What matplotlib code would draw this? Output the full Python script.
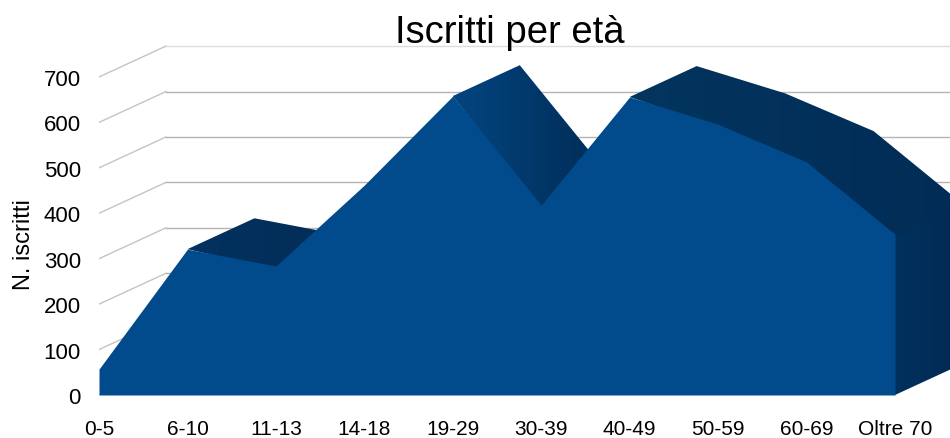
"""Iscritti per eta: area chart with a fake 3D depth."""

import matplotlib

matplotlib.use("Agg")
import matplotlib.pyplot as plt
import numpy as np
from matplotlib.colors import LinearSegmentedColormap
from matplotlib.patches import Polygon

categories = ["0-5", "6-10", "11-13", "14-18", "19-29", "30-39", "40-49", "50-59", "60-69", "Oltre 70"]
iscritti = [57, 321, 284, 462, 658, 418, 656, 596, 513, 354]
y_ticks = [0, 100, 200, 300, 400, 500, 600, 700]

FRONT = "#014a8c"
DEPTH_X = 67 / 88.44
DEPTH_Y = 68
BLEED = 8  # faces run a little under the front so no seam shows


def shaded_face(ax, corners, colors, zorder):
    cmap = LinearSegmentedColormap.from_list("face", colors)
    xs = [c[0] for c in corners]
    ys = [c[1] for c in corners]
    im = ax.imshow(
        np.linspace(0, 1, 128).reshape(1, -1),
        cmap=cmap,
        extent=(min(xs), max(xs), min(ys), max(ys)),
        aspect="auto",
        zorder=zorder,
    )
    clip = Polygon(corners, closed=True, transform=ax.transData, fc="none", ec="none")
    ax.add_patch(clip)
    im.set_clip_path(clip)


def top_face(ax, first, last, colors, zorder):
    """One shaded top face over the falling run first..last."""
    lower = [(first, iscritti[first])]
    lower += [(i, iscritti[i] - BLEED) for i in range(first + 1, last + 1)]
    upper = [(i + DEPTH_X, iscritti[i] + DEPTH_Y) for i in range(last, first - 1, -1)]
    shaded_face(ax, lower + upper, colors, zorder)


def main() -> None:
    plt.rcParams["font.family"] = ["Liberation Sans", "DejaVu Sans"]

    fig = plt.figure(figsize=(9.5, 4.39), dpi=100)
    ax = fig.add_axes([99 / 950, (439 - 396) / 439, (950 - 99) / 950, 396 / 439])

    x = np.arange(len(categories))
    last = x[-1]
    xlim = (0, 851 / 88.44)
    ylim = (0, 396 / 0.4543)

    # grid: side wall diagonals and back wall lines
    for v in y_ticks:
        grid = "#dddddd" if v == y_ticks[-1] else "#b4b4b4"
        ax.plot([0, DEPTH_X], [v, v + DEPTH_Y], color="#c4c4c4", lw=1, zorder=1)
        ax.plot([DEPTH_X, xlim[1]], [v + DEPTH_Y, v + DEPTH_Y], color=grid, lw=1, zorder=1)

    # right end wall, its top runs under the top face
    end = iscritti[-1]
    wall = [
        (last - 0.05, BLEED),
        (last, 0),
        (last + DEPTH_X, DEPTH_Y),
        (last + DEPTH_X, end + DEPTH_Y + BLEED),
        (last, end + BLEED),
    ]
    shaded_face(ax, wall, ("#02315f", "#012a52"), 2)

    # top faces, only where the profile falls
    top_face(ax, 1, 2, ("#03325f", "#022d57"), 2)
    top_face(ax, 4, 5, ("#034580", "#012b55"), 2)
    top_face(ax, 6, 9, ("#03355f", "#012c56"), 2)

    ax.fill_between(x, iscritti, 0, color=FRONT, lw=0, zorder=3)

    ax.set_xlim(*xlim)
    ax.set_ylim(*ylim)
    ax.set_xticks(x, categories)
    ax.set_yticks(y_ticks)
    ax.tick_params(axis="x", length=0, pad=17, labelsize=15)
    ax.tick_params(axis="y", length=0, pad=13, labelsize=16)
    for side in ax.spines.values():
        side.set_visible(False)
    ax.patch.set_alpha(0)

    fig.text(24 / 950, 1 - 245 / 439, "N. iscritti", rotation=90, fontsize=17, ha="center", va="center")
    fig.text(510 / 950, 1 - 33 / 439, "Iscritti per età", fontsize=27.5, ha="center", va="center")

    fig.savefig("out.png", dpi=100)


if __name__ == "__main__":
    main()
